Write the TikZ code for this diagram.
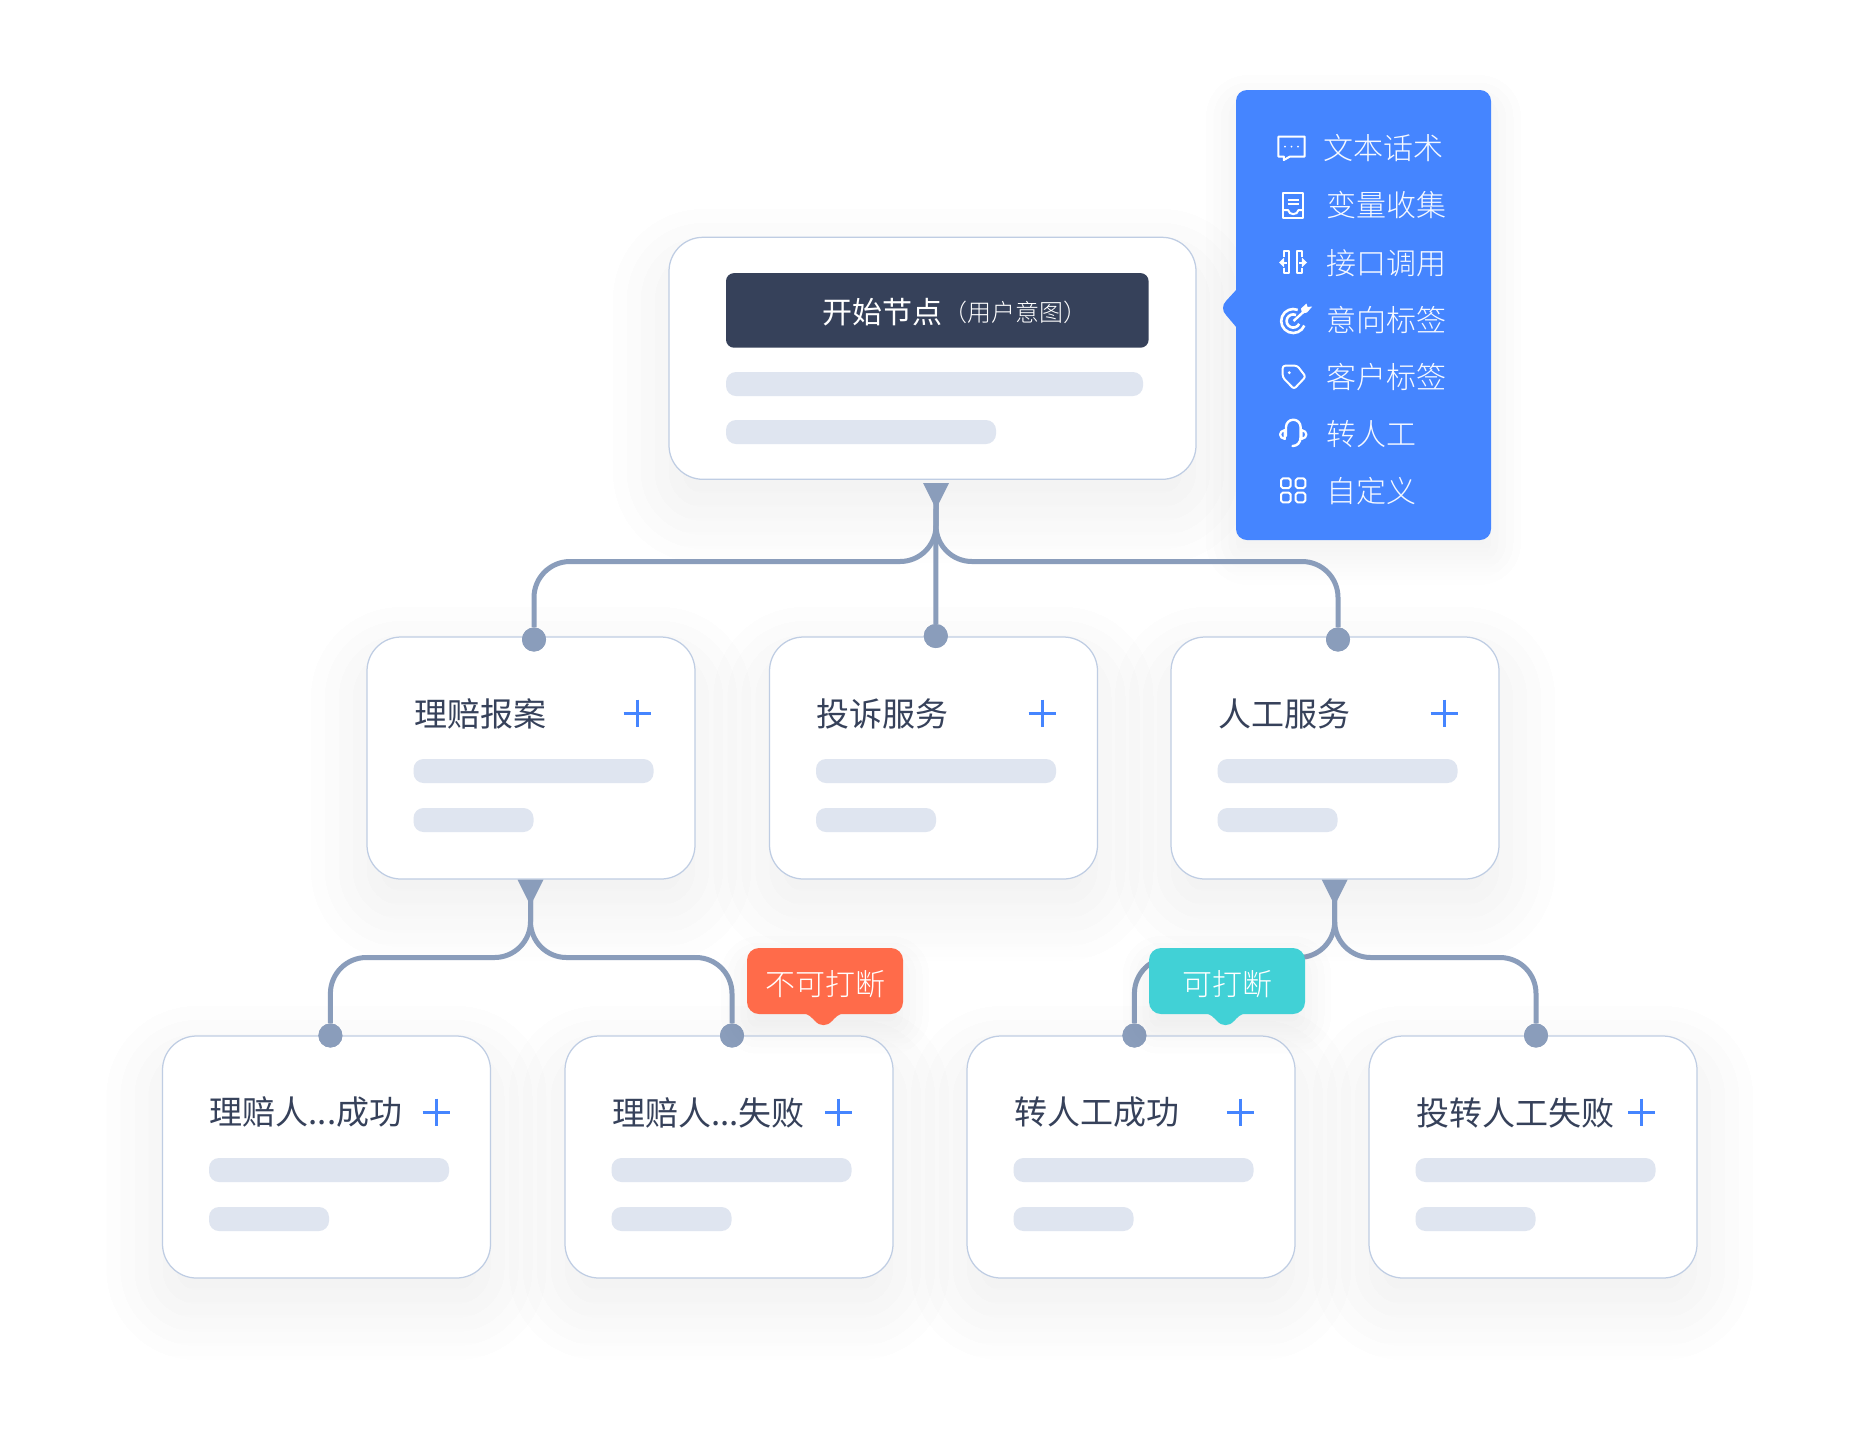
\documentclass[tikz,border=0pt]{standalone}
\usepackage{fontspec}
\setmainfont{Noto Sans CJK SC}
\newfontfamily\cjkr{Noto Sans CJK SC}
\newfontfamily\cjkl{Noto Sans CJK SC Light}
\definecolor{ink}{HTML}{36415A}
\definecolor{line}{HTML}{8A9DBB}
\definecolor{edge}{HTML}{BFCDE3}
\definecolor{bar}{HTML}{DFE5F0}
\definecolor{azure}{HTML}{4585FF}
\definecolor{coral}{HTML}{FF6B4A}
\definecolor{teal}{HTML}{41D1D6}
\definecolor{shade}{HTML}{5A7A7A}
\newcommand{\softshadow}[6]{% x0 y0 x1 y1 radius spread
  \foreach \k in {-3,...,4}{%
    \pgfmathsetmacro{\dd}{\k*#6/4}%
    \pgfmathsetmacro{\rr}{max(2,#5+\dd)}%
    \fill[shade,opacity=0.0028,rounded corners=\rr pt]
      ({#1-\dd},{#2-\dd}) rectangle ({#3+\dd},{#4+\dd});
  }}
\newcommand{\cardshadow}[2]{\softshadow{#1-164}{#2-121+26}{#1+164}{#2+121+26}{34}{56}}
\tikzset{
  x=1pt,y=-1pt,
  cardbox/.style={draw=edge,line width=1.25pt,fill=white,rounded corners=34pt,minimum width=328pt,minimum height=242pt,inner sep=0},
  barshape/.style={fill=bar,rounded corners=10pt},
  conn/.style={draw=line,line width=5pt},
  dotnode/.style={circle,fill=line,minimum size=24pt,inner sep=0},
  tri/.style={fill=line},
  plus/.style={draw=azure,line width=3pt},
  title/.style={anchor=west,inner sep=0,text=ink,font=\cjkr\fontsize{33}{33}\selectfont},
  menu/.style={anchor=west,inner sep=0,text=white!95!azure,font=\cjkl\fontsize{30}{30}\selectfont},
  icon/.style={draw=white,line width=2pt,line join=round},
  tagtext/.style={inner sep=0,text=white,font=\cjkl\fontsize{30}{30}\selectfont},
}
\newcommand{\card}[5]{% name, center x, center y, title, plus x
  \node[cardbox] (#1) at (#2,#3) {};
  \node[title] (#1t) at (#2-117,#3-44.5) {#4};
  \draw[plus] (#5-13.5,#3-45) -- (#5+13.5,#3-45);
  \draw[plus] (#5,#3-58.5) -- (#5,#3-31.5);
  \fill[barshape] (#2-117.5,#3+1) rectangle (#2+122.5,#3+25);
  \fill[barshape] (#2-117.5,#3+50) rectangle (#2+2.5,#3+74);
}
\begin{document}
\begin{tikzpicture}
\useasboundingbox (0,0) rectangle (1857,1428);
\fill[white] (0,0) rectangle (1857,1428);
% soft shadows
\softshadow{669}{265}{1196}{507}{34}{56}
\cardshadow{531}{758}\cardshadow{933.5}{758}\cardshadow{1335}{758}
\cardshadow{326.5}{1157}\cardshadow{729}{1157}\cardshadow{1131}{1157}\cardshadow{1533}{1157}
\softshadow{1236}{105}{1491}{555}{12}{30}
% top card
\node[cardbox,minimum width=527pt] (start) at (932.5,358.3) {};
\node[fill=ink,rounded corners=8pt,minimum width=422.6pt,minimum height=74.6pt,inner sep=0] (head) at (937.3,310.4) {};
\node[anchor=west,inner sep=0,text=white,font=\cjkr\fontsize{30}{30}\selectfont] (headt) at (822,312) {开始节点};
\node[anchor=west,inner sep=0,text=white,font=\cjkl\fontsize{24}{24}\selectfont] (heads) at (943,312) {（用户意图）};
\fill[barshape] (726,372) rectangle (1143,396);
\fill[barshape] (726,420) rectangle (996,444);
% cards
\card{a}{531}{758}{理赔报案}{637}
\card{b}{933.5}{758}{投诉服务}{1042}
\card{c}{1335}{758}{人工服务}{1444}
\card{d}{326.5}{1157}{理赔人...成功}{436}
\card{e}{729}{1157}{理赔人...失败}{838.5}
\card{f}{1131}{1157}{转人工成功}{1240.3}
\card{g}{1533}{1157}{投转人工失败}{1641.5}
% connector anchors
\coordinate (t0) at (936,500);
\coordinate (t1) at (530.5,900);
\coordinate (t2) at (1334.7,900);
\coordinate (h0) at (0,561.5);
\coordinate (h1) at (0,957.5);
\node[dotnode] (p1) at (534,639.5) {};
\node[dotnode] (p2) at (935.8,636) {};
\node[dotnode] (p3) at (1338,639.5) {};
\node[dotnode] (q1) at (330.4,1035.5) {};
\node[dotnode] (q2) at (732,1035.5) {};
\node[dotnode] (q3) at (1134.4,1035.5) {};
\node[dotnode] (q4) at (1536,1035.5) {};
\draw[conn,rounded corners=36pt] (t0) -- (t0 |- h0) -- (p1 |- h0) -- (p1);
\draw[conn,rounded corners=36pt] (t0) -- (t0 |- h0) -- (p3 |- h0) -- (p3);
\draw[conn] (t0) -- (p2);
\draw[conn,rounded corners=36pt] (t1) -- (t1 |- h1) -- (q1 |- h1) -- (q1);
\draw[conn,rounded corners=36pt] (t1) -- (t1 |- h1) -- (q2 |- h1) -- (q2);
\draw[conn,rounded corners=36pt] (t2) -- (t2 |- h1) -- (q3 |- h1) -- (q3);
\draw[conn,rounded corners=36pt] (t2) -- (t2 |- h1) -- (q4 |- h1) -- (q4);
\fill[tri] (923,483) -- (949,483) -- (936,509) -- cycle;
\fill[tri] (517.5,879.5) -- (543.5,879.5) -- (530.5,905.5) -- cycle;
\fill[tri] (1321.7,879.5) -- (1347.7,879.5) -- (1334.7,905.5) -- cycle;
\foreach \n in {p1,p2,p3,q1,q2,q3,q4}{\node[dotnode] at (\n) {};}
% tags
\softshadow{747}{962}{903}{1028}{12}{26}
\softshadow{1149}{962}{1305}{1028}{12}{26}
\node[fill=coral,rounded corners=12pt,minimum width=156pt,minimum height=66pt,inner sep=0] (stop) at (825,981) {};
\fill[coral] (802,1013) .. controls (809,1014) and (811,1017) .. (815,1021) .. controls (820,1026.5) and (827,1026.5) .. (832,1021) .. controls (836,1017) and (838,1014) .. (845,1013) -- cycle;
\node[tagtext] (stopt) at (825.5,984) {不可打断};
\node[fill=teal,rounded corners=12pt,minimum width=156pt,minimum height=66pt,inner sep=0] (go) at (1227,981) {};
\fill[teal] (1204,1013) .. controls (1211,1014) and (1213,1017) .. (1217,1021) .. controls (1222,1026.5) and (1229,1026.5) .. (1234,1021) .. controls (1238,1017) and (1240,1014) .. (1247,1013) -- cycle;
\node[tagtext] (got) at (1227,984) {可打断};
% blue menu
\node[fill=azure,rounded corners=11pt,minimum width=255pt,minimum height=450pt,inner sep=0] (box) at (1363.5,315) {};
\fill[azure] (1237,289) -- (1226,301) .. controls (1222,305) and (1222,311) .. (1226,315) -- (1237,328) -- cycle;
\node[menu] (m1) at (1323,148.5) {文本话术};
\node[menu] (m2) at (1326,205.5) {变量收集};
\node[menu] (m3) at (1326,263) {接口调用};
\node[menu] (m4) at (1326,320) {意向标签};
\node[menu] (m5) at (1326,377) {客户标签};
\node[menu] (m6) at (1326,434.5) {转人工};
\node[menu] (m7) at (1326,491) {自定义};
% icon 1: bubble
\draw[icon] (1278.3,136.7) -- (1304.7,136.7) -- (1304.7,156.5) -- (1290,156.5) -- (1283.8,160) -- (1283.8,156.5) -- (1278.3,156.5) -- cycle;
\fill[white] (1285,146.7) circle (1) (1291.5,146.7) circle (1) (1298,146.7) circle (1);
% icon 2: document
\draw[icon] (1283.3,193) rectangle (1303.3,218);
\draw[icon] (1287.5,199.5) -- (1299.3,199.5) (1287.5,204.3) -- (1299.3,204.3);
\draw[icon] (1283.3,210) -- (1288,210) .. controls (1289,215.5) and (1297.5,215.5) .. (1298.5,210) -- (1303.3,210);
% icon 3: interface
\draw[icon] (1284,256.5) -- (1284,251) -- (1288.7,251) -- (1288.7,272.5) -- (1284,272.5) -- (1284,267.5);
\draw[icon] (1302,256.5) -- (1302,251) -- (1297.3,251) -- (1297.3,272.5) -- (1302,272.5) -- (1302,267.5);
\draw[icon] (1281,262.5) -- (1287,262.5) (1299,262.5) -- (1305,262.5);
\fill[white] (1279,262.5) -- (1284.2,257.5) -- (1284.2,267.5) -- cycle;
\fill[white] (1307,262.5) -- (1301.8,257.5) -- (1301.8,267.5) -- cycle;
% icon 4: target
\draw[icon,line width=2.6pt] ({1293.2+12*cos(68)},{321-12*sin(68)}) arc[start angle=-68,end angle=-338,radius=12];
\draw[icon,line width=2.6pt] ({1293.2+6.6*cos(65)},{321-6.6*sin(65)}) arc[start angle=-65,end angle=-335,radius=6.6];
\draw[icon,line width=2.4pt] (1293.5,321) -- (1304.5,311);
\fill[white] (1302,313.5) -- (1301,308.5) -- (1306.5,303.5) -- (1307.5,307) -- (1312.2,306.5) -- (1307,312.5) -- cycle;
% icon 5: tag
\draw[icon,rounded corners=2.5pt] (1282.7,365.7) -- (1297.3,365.7) -- (1305.7,376.7) -- (1294,389) -- (1282.7,377.3) -- cycle;
\fill[white] (1289.3,372.7) circle (1.6);
% icon 6: headset
\draw[icon,line cap=round,line width=2.4pt] (1286,436) -- (1286,427) arc[start angle=180,end angle=360,radius=7.3] -- (1300.6,437) .. controls (1300.6,443) and (1297,446) .. (1292.5,446);
\draw[icon,line width=2.2pt] (1284.8,430) .. controls (1278.5,431) and (1278.5,438) .. (1284.8,439) -- cycle;
\draw[icon,line width=2.2pt] (1301.6,430) .. controls (1307.9,431) and (1307.9,438) .. (1301.6,439) -- cycle;
% icon 7: grid
\foreach \gx in {1281,1295.7}{\foreach \gy in {478.4,492.7}{
  \draw[icon,rounded corners=1.8pt] (\gx,\gy) rectangle (\gx+9.6,\gy+9.6);}}
\end{tikzpicture}
\end{document}
